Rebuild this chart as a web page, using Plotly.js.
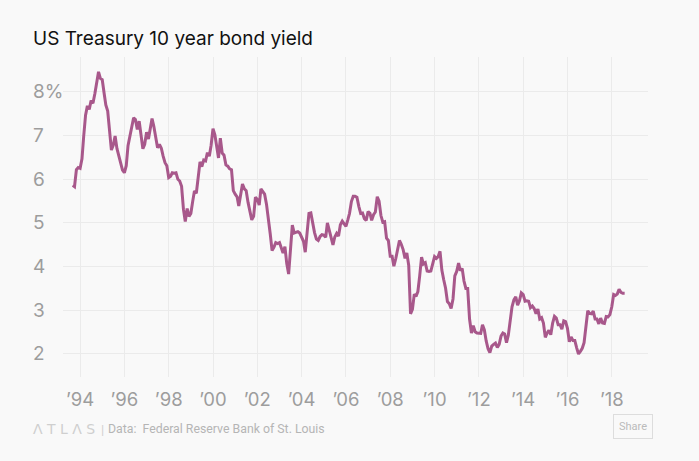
<!DOCTYPE html>
<html>
<head>
<meta charset="utf-8">
<script src="https://cdn.plot.ly/plotly-3.0.1.min.js"></script>
<style>
  html, body { margin: 0; padding: 0; background: #f9f9f9; }
  #chart { width: 699px; height: 461px; }
</style>
</head>
<body>
<div id="chart"></div>
<script>
// Monthly yields (% as plotted), first month of each year array noted
const startMonth1993 = 9; // series starts Sep 1993
const y1993 = [5.86, 5.83, 6.22, 6.27];
const y1994 = [6.25, 6.47, 6.98, 7.47, 7.68, 7.60, 7.80, 7.74, 7.96, 8.24, 8.46, 8.31];
const y1995 = [8.28, 7.97, 7.70, 7.56, 7.13, 6.67, 6.78, 6.99, 6.70, 6.54, 6.43, 6.21];
const y1996 = [6.15, 6.31, 6.77, 7.01, 7.24, 7.41, 7.37, 7.14, 7.33, 7.03, 6.70, 6.80];
const y1997 = [7.08, 6.92, 7.19, 7.39, 7.21, 6.99, 6.72, 6.80, 6.71, 6.53, 6.38, 6.31];
const y1998 = [6.04, 6.07, 6.15, 6.14, 6.15, 6.00, 5.96, 5.84, 5.31, 5.03, 5.33, 5.15];
const y1999 = [5.22, 5.50, 5.73, 5.68, 6.04, 6.40, 6.29, 6.44, 6.42, 6.61, 6.53, 6.78];
const y2000 = [7.16, 7.02, 6.76, 6.49, 6.94, 6.60, 6.55, 6.33, 6.30, 6.24, 6.22, 5.74];
const y2001 = [5.66, 5.60, 5.39, 5.64, 5.89, 5.78, 5.74, 5.47, 5.23, 5.07, 5.15, 5.59];
const y2002 = [5.54, 5.41, 5.78, 5.71, 5.66, 5.43, 5.15, 4.76, 4.37, 4.44, 4.55, 4.53];
const y2003 = [4.55, 4.40, 4.31, 4.46, 4.07, 3.83, 4.48, 4.95, 4.77, 4.79, 4.80, 4.77];
const y2004 = [4.65, 4.58, 4.33, 4.85, 5.22, 5.23, 5.00, 4.78, 4.63, 4.60, 4.69, 4.73];
const y2005 = [4.72, 4.67, 5.00, 4.84, 4.64, 4.50, 4.68, 4.76, 4.70, 4.96, 5.04, 4.97];
const y2006 = [4.92, 5.07, 5.22, 5.49, 5.61, 5.61, 5.59, 5.38, 5.22, 5.23, 5.10, 5.06];
const y2007 = [5.26, 5.22, 5.06, 5.19, 5.25, 5.60, 5.50, 5.17, 5.02, 5.03, 4.65, 4.60];
const y2008 = [4.24, 4.24, 4.01, 4.18, 4.38, 4.60, 4.51, 4.39, 4.19, 4.31, 4.03, 2.92];
const y2009 = [3.02, 3.37, 3.32, 3.43, 3.79, 4.22, 4.06, 4.09, 3.90, 3.89, 3.90, 4.09];
const y2010 = [4.23, 4.19, 4.23, 4.35, 3.92, 3.70, 3.51, 3.20, 3.15, 3.04, 3.26, 3.79];
const y2011 = [3.89, 4.08, 3.91, 3.96, 3.67, 3.50, 3.50, 2.80, 2.48, 2.65, 2.51, 2.48];
const y2012 = [2.47, 2.47, 2.67, 2.55, 2.30, 2.12, 2.03, 2.18, 2.22, 2.25, 2.15, 2.22];
const y2013 = [2.41, 2.48, 2.46, 2.26, 2.43, 2.80, 3.08, 3.24, 3.31, 3.12, 3.22, 3.40];
const y2014 = [3.36, 3.21, 3.22, 3.21, 3.06, 3.10, 3.04, 2.92, 3.03, 2.80, 2.83, 2.71];
const y2015 = [2.38, 2.48, 2.54, 2.44, 2.70, 2.86, 2.82, 2.67, 2.67, 2.57, 2.76, 2.74];
const y2016 = [2.59, 2.28, 2.39, 2.31, 2.31, 2.14, 2.00, 2.06, 2.13, 2.26, 2.64, 2.99];
const y2017 = [2.93, 2.92, 2.98, 2.80, 2.80, 2.69, 2.82, 2.71, 2.70, 2.86, 2.85, 2.90];
const y2018 = [3.08, 3.36, 3.34, 3.37, 3.48, 3.41, 3.39, 3.39];

const yearly = [
  [1993, y1993], [1994, y1994], [1995, y1995], [1996, y1996], [1997, y1997],
  [1998, y1998], [1999, y1999], [2000, y2000], [2001, y2001], [2002, y2002],
  [2003, y2003], [2004, y2004], [2005, y2005], [2006, y2006], [2007, y2007],
  [2008, y2008], [2009, y2009], [2010, y2010], [2011, y2011], [2012, y2012],
  [2013, y2013], [2014, y2014], [2015, y2015], [2016, y2016], [2017, y2017],
  [2018, y2018]
];

const xTickVals = ['1994-01-01','1996-01-01','1998-01-01','2000-01-01','2002-01-01','2004-01-01','2006-01-01','2008-01-01','2010-01-01','2012-01-01','2014-01-01','2016-01-01','2018-01-01'];
const xTickText = ['’94','’96','’98','’00','’02','’04','’06','’08','’10','’12','’14','’16','’18'];
const yTickVals = [2, 3, 4, 5, 6, 7, 8];
const yTickText = ['2', '3', '4', '5', '6', '7', '8%'];

const dates = [], vals = [];
yearly.forEach(([yr, arr]) => {
  const m0 = (yr === 1993) ? startMonth1993 : 1;
  arr.forEach((v, i) => {
    const m = m0 + i;
    dates.push(yr + '-' + String(m).padStart(2, '0') + '-01');
    vals.push(v);
  });
});

const trace = {
  x: dates, y: vals, type: 'scatter', mode: 'lines',
  line: { color: '#a8588b', width: 3, shape: 'linear' },
  hoverinfo: 'x+y'
};

const gray = '#9d9d9d';
const annotations = yTickVals.map((v, i) => ({
  xref: 'paper', yref: 'y', x: -0.055, y: v, xanchor: 'left', yanchor: 'middle',
  text: yTickText[i], showarrow: false,
  font: { family: 'Inter, Roboto, sans-serif', size: 19, color: gray }
}));

annotations.push({
  xref: 'paper', yref: 'paper', x: -0.055, y: -0.163, xanchor: 'left', yanchor: 'middle',
  text: 'Λ T L Λ S', showarrow: false,
  font: { family: 'DejaVu Sans, sans-serif', size: 14, color: '#cfcfcf' }
});
annotations.push({
  xref: 'paper', yref: 'paper', x: 0.0615, y: -0.163, xanchor: 'left', yanchor: 'middle',
  text: '|', showarrow: false,
  font: { family: 'Roboto, sans-serif', size: 13, color: '#d0d0d0' }
});
annotations.push({
  xref: 'paper', yref: 'paper', x: 0.0735, y: -0.163, xanchor: 'left', yanchor: 'middle',
  text: 'Data:  Federal Reserve Bank of St. Louis', showarrow: false,
  font: { family: 'Roboto, sans-serif', size: 12.3, color: '#b5b5b5' }
});
annotations.push({
  xref: 'paper', yref: 'paper', x: 0.9745, y: -0.155, xanchor: 'center', yanchor: 'middle',
  text: 'Share', showarrow: false, bordercolor: '#dddddd', borderwidth: 1, borderpad: 5,
  bgcolor: '#f9f9f9',
  font: { family: 'Roboto, sans-serif', size: 11, color: '#bbbbbb' }
});

const layout = {
  width: 699, height: 461,
  paper_bgcolor: '#f9f9f9', plot_bgcolor: '#f9f9f9',
  margin: { l: 63, r: 51, t: 57, b: 84 },
  showlegend: false,
  title: {
    text: 'US Treasury 10 year bond yield',
    xref: 'container', yref: 'container', x: 33 / 699, xanchor: 'left',
    y: 1 - 38 / 461, yanchor: 'middle',
    font: { family: 'Inter, Roboto, sans-serif', size: 19, color: '#111111' }
  },
  xaxis: {
    type: 'date',
    range: ['1993-03-25', '2019-08-21'],
    tickvals: xTickVals, ticktext: xTickText,
    showgrid: true, gridcolor: '#ebebeb', gridwidth: 1,
    zeroline: false, showline: false,
    ticks: 'outside', ticklen: 6, tickcolor: 'rgba(0,0,0,0)',
    tickfont: { family: 'Inter, Roboto, sans-serif', size: 18.5, color: gray },
    fixedrange: true
  },
  yaxis: {
    range: [1.473, 8.80],
    tickvals: yTickVals,
    showticklabels: false,
    showgrid: true, gridcolor: '#ebebeb', gridwidth: 1,
    zeroline: false, showline: false, ticks: '',
    fixedrange: true
  },
  annotations: annotations
};

Plotly.newPlot('chart', [trace], layout, { displayModeBar: false, responsive: false });
</script>
</body>
</html>
